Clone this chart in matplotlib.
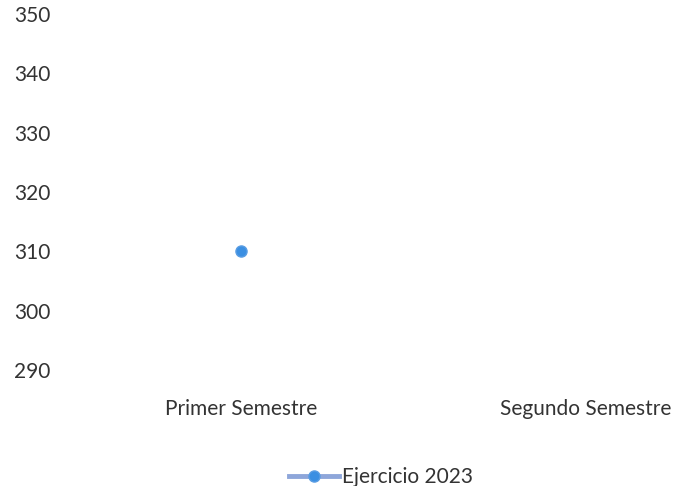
import numpy as np
import matplotlib.pyplot as plt

# datos
categorias = ["Primer Semestre", "Segundo Semestre"]
ejercicio_2023 = [310, np.nan]
y_ticks = [290, 300, 310, 320, 330, 340, 350]

plt.rcParams['font.family'] = ['Lato', 'DejaVu Sans']

fig = plt.figure(figsize=(6.86, 4.86), dpi=100)
# el area de trazado se sale por la derecha (imagen recortada)
ax = fig.add_axes([68.5 / 686, 1 - 370 / 486, 690 / 686, (370 - 14) / 486])

x = np.arange(len(categorias))
ax.plot(x, ejercicio_2023, color='#8ea6da', lw=3.5, marker='o', markersize=8,
        markerfacecolor='#3b8fe2', markeredgecolor='#5a9de3', label='Ejercicio 2023')

ax.set_xlim(-0.5, 1.5)
ax.set_ylim(290, 350)
ax.set_yticks(y_ticks)
ax.set_xticks(x)
ax.set_xticklabels(categorias)

for s in ax.spines.values():
    s.set_visible(False)
ax.tick_params(axis='both', length=0, labelsize=15, colors='#333333')
ax.tick_params(axis='x', pad=21)
ax.tick_params(axis='y', pad=39)
for lbl in ax.get_yticklabels():
    lbl.set_horizontalalignment('left')

fig.legend(loc='center', bbox_to_anchor=(381 / 686, 1 - 477 / 486), frameon=False,
           fontsize=15, handlelength=2.4, handletextpad=0.1, labelcolor='#333333')

fig.savefig('out.png', dpi=100)
